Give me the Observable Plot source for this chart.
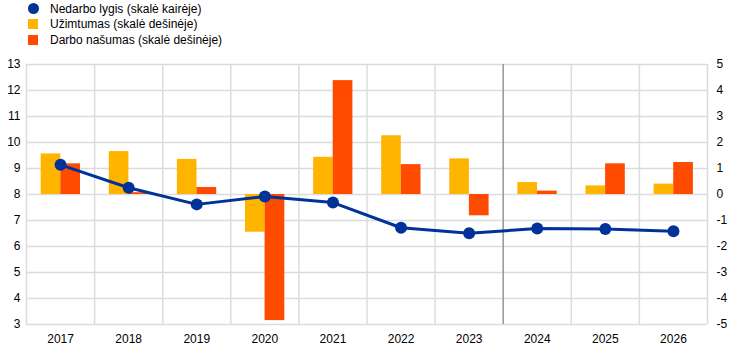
<!DOCTYPE html>
<html>
<head>
<meta charset="utf-8">
<script src="https://cdn.jsdelivr.net/npm/d3@7"></script>
<script src="https://cdn.jsdelivr.net/npm/@observablehq/plot@0.6"></script>
<style>
  html, body { margin: 0; padding: 0; background: #fff; }
  body { width: 744px; height: 352px; overflow: hidden; font-family: "Liberation Sans", Arial, sans-serif; }
  #legend { height: 52px; position: relative; font-size: 12px; color: #000; }
  .sw { position: absolute; }
  .lbl { position: absolute; left: 50px; white-space: nowrap; line-height: 16px; }
</style>
</head>
<body>
<div id="legend"></div>
<div id="chart"></div>
<script>
const years = ["2017","2018","2019","2020","2021","2022","2023","2024","2025","2026"];
const unemployment = [9.14, 8.26, 7.62, 7.92, 7.69, 6.72, 6.51, 6.69, 6.67, 6.59];
const employment = [1.56, 1.65, 1.35, -1.45, 1.43, 2.26, 1.37, 0.46, 0.33, 0.40];
const productivity = [1.18, 0.07, 0.27, -4.85, 4.38, 1.15, -0.82, 0.13, 1.18, 1.23];
const leftTicks = [3,4,5,6,7,8,9,10,11,12,13];
const rightOffset = 8; // right-axis 0 aligns with left-axis 8
const projectionStart = "2024";

const seriesNames = ["Nedarbo lygis (skalė kairėje)", "Užimtumas (skalė dešinėje)", "Darbo našumas (skalė dešinėje)"];
const colors = ["#003299", "#FFB400", "#FF4B00"];

// Legend
const legend = document.getElementById("legend");
const rowsY = [1, 16, 32];
seriesNames.forEach((name, k) => {
  const sw = document.createElement("div");
  sw.className = "sw";
  if (k === 0) {
    Object.assign(sw.style, {left: "28px", top: (rowsY[k] + 2) + "px", width: "11px", height: "11px", borderRadius: "50%", background: colors[k]});
  } else {
    Object.assign(sw.style, {left: "28px", top: (rowsY[k] + 3) + "px", width: "10px", height: "10px", background: colors[k]});
  }
  legend.appendChild(sw);
  const t = document.createElement("div");
  t.className = "lbl";
  t.style.top = rowsY[k] + "px";
  t.textContent = name;
  legend.appendChild(t);
});

const idx = years.map((_, i) => i);
const empRows = years.map((y, i) => ({i, v: employment[i]}));
const prodRows = years.map((y, i) => ({i, v: productivity[i]}));
const unRows = years.map((y, i) => ({i, v: unemployment[i]}));
const bounds = d3.range(-0.5, years.length, 1);
const projIdx = years.indexOf(projectionStart) - 0.5;

const chart = Plot.plot({
  width: 744,
  height: 300,
  marginTop: 12,
  marginBottom: 28,
  marginLeft: 26,
  marginRight: 37,
  style: {fontFamily: "Liberation Sans, Arial, sans-serif", fontSize: "12px", color: "#000", background: "#fff"},
  x: {type: "linear", domain: [-0.5, years.length - 0.5]},
  y: {domain: [3, 13]},
  marks: [
    Plot.ruleY(leftTicks, {stroke: "#dcdcdc", strokeWidth: 1.5}),
    Plot.ruleX(bounds, {stroke: "#dcdcdc", strokeWidth: 1.5}),
    Plot.ruleX([projIdx], {stroke: "#9a9a9a", strokeWidth: 1.5}),
    Plot.rectY(empRows, {x1: d => d.i - 0.5, x2: d => d.i + 0.5, y1: rightOffset, y2: d => d.v + rightOffset, insetLeft: 14.7, insetRight: 33.8, fill: colors[1]}),
    Plot.rectY(prodRows, {x1: d => d.i - 0.5, x2: d => d.i + 0.5, y1: rightOffset, y2: d => d.v + rightOffset, insetLeft: 34.3, insetRight: 14.1, fill: colors[2]}),
    Plot.line(unRows, {x: "i", y: "v", stroke: colors[0], strokeWidth: 3}),
    Plot.dot(unRows, {x: "i", y: "v", fill: colors[0], r: 6}),
    Plot.axisX(idx, {tickFormat: i => years[i], tickSize: 0, tickPadding: 10, label: null}),
    Plot.axisY(leftTicks, {anchor: "left", tickSize: 0, tickPadding: 6, label: null}),
    Plot.axisY(leftTicks, {anchor: "right", tickSize: 0, tickPadding: 9, tickFormat: d => String(d - rightOffset), label: null})
  ]
});
document.getElementById("chart").appendChild(chart);
</script>
</body>
</html>
